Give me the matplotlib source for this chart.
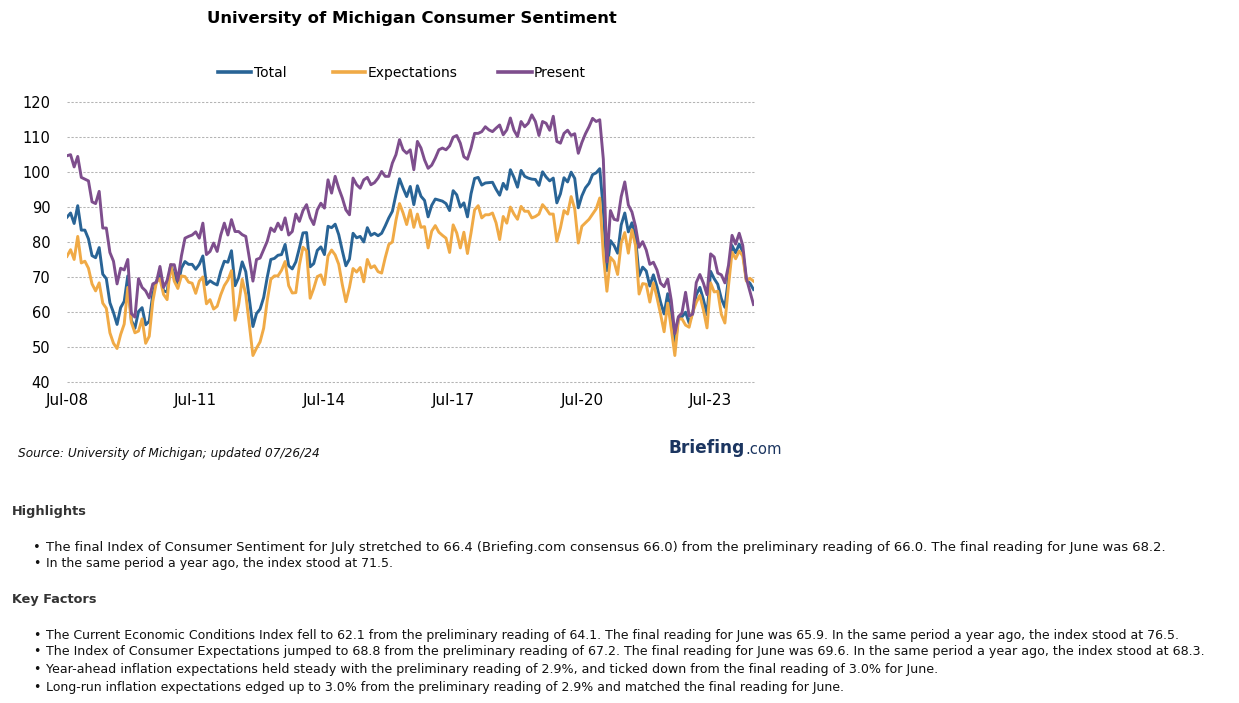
import matplotlib
matplotlib.use("Agg")
import matplotlib.pyplot as plt
from matplotlib.lines import Line2D

# ---------------- data (monthly readings as plotted) ----------------
total = [
    87.1, 88.3, 85.3, 90.4, 83.4, 83.4, 80.9, 76.1, 75.5, 78.4, 70.8, 69.5, 62.6, 59.8, 56.4, 61.2,
    63.0, 70.3, 57.6, 55.3, 60.1, 61.2, 56.3, 57.3, 65.1, 68.7, 70.8, 66.0, 65.7, 73.5, 70.6, 67.4,
    72.5, 74.4, 73.6, 73.6, 72.2, 73.6, 76.0, 67.8, 68.9, 68.2, 67.7, 71.6, 74.5,
    74.2, 77.5, 67.5, 69.8, 74.3, 71.5, 63.7, 55.8, 59.5, 60.8, 64.1, 69.9,
    75.0, 75.3, 76.2, 76.4, 79.3, 73.2, 72.3, 74.3, 78.3, 82.6, 82.7, 72.9,
    73.8, 77.6, 78.6, 76.4, 84.5, 84.1, 85.1, 82.1, 77.5, 73.2, 75.1, 82.5,
    81.2, 81.6, 80.0, 84.1, 81.9, 82.5, 81.8, 82.5, 84.6, 86.9, 88.8, 93.6,
    98.1, 95.4, 93.0, 95.9, 90.7, 96.1, 93.1, 91.9, 87.2,
    90.5, 92.3, 92.0, 91.7, 91.0, 89.0, 94.7, 93.5, 90.0, 91.2, 87.2,
    93.8, 98.2, 98.5, 96.3, 96.9, 97.0, 97.1, 95.1, 93.4, 96.8, 95.1, 100.7, 98.5, 95.7, 100.5, 98.8,
    98.3, 98.0,
    97.9, 96.2, 100.1, 98.6, 97.5, 98.3, 91.2, 93.8, 98.4, 97.2, 100.0, 98.2, 89.8, 93.2, 95.5, 96.8,
    99.3, 99.8, 101.0, 89.1,
    71.8, 80.4, 79.0, 76.8, 84.9,
    88.3, 82.9, 85.5, 81.2, 70.3, 72.8, 71.7, 67.4, 70.6, 67.2, 62.8, 59.4, 65.2, 58.4, 50.0,
    58.2, 58.6, 59.9, 56.8, 59.7, 64.9, 67.0, 63.5, 59.2, 71.6, 69.5, 67.9, 63.8, 61.3, 69.7, 79.0,
    76.9, 79.4, 77.2, 69.1, 68.2, 66.4,
]

expectations = [
    75.9, 77.8, 75.0, 81.6, 74.0, 74.5, 72.5, 68.0, 66.0, 68.3, 62.5, 61.0, 54.0, 51.0, 49.5, 53.5,
    56.5, 67.0, 57.0, 54.0, 54.5, 58.0, 51.0, 53.0, 63.0, 68.5, 69.5, 65.0, 63.5, 73.5, 68.8, 66.7,
    70.3, 70.1, 68.5, 68.2, 65.3, 68.8, 70.0, 62.3, 63.5, 60.8, 61.6, 64.9, 67.5, 69.1, 71.8, 57.6,
    62.0, 69.3, 65.0, 56.2, 47.5, 49.6, 51.4, 55.3, 63.2, 69.3, 70.3, 70.3, 71.9, 74.4, 67.5, 65.4,
    65.5, 73.4, 78.5, 77.5, 63.9, 66.7, 70.1, 70.6, 67.8, 76.0, 77.7, 76.3, 73.6, 67.8, 62.9, 67.0,
    72.4, 71.4, 72.7, 68.6, 75.0, 72.6, 73.2, 71.5, 71.1, 75.5, 79.3, 80.0, 86.2, 91.0, 88.3, 85.0,
    89.2, 84.2, 88.0, 84.2, 84.4, 78.3, 83.1, 84.7, 82.8, 81.9, 81.1, 77.0, 84.9, 82.6, 78.3, 82.8,
    76.7,
    82.6, 89.2, 90.4, 86.9, 87.8, 87.8, 88.3, 85.5, 80.7, 87.3, 85.4, 90.0, 88.0, 86.5, 90.2, 88.8,
    88.8, 86.9,
    87.3, 88.0, 90.7, 89.5, 88.0, 88.0, 80.2, 84.0, 89.0, 88.0, 93.0, 89.5, 79.7, 84.5, 85.5, 86.5,
    88.0, 89.5, 92.6, 76.4,
    65.9, 75.6, 74.4, 70.7, 79.7,
    82.7, 76.8, 83.5, 79.0, 65.1, 68.1, 67.9, 62.8, 68.3, 64.1, 59.4, 54.3, 62.5, 55.2, 47.5,
    57.9, 58.0, 56.2, 55.6, 59.9, 62.7, 64.7, 60.5, 55.4, 68.3, 65.7, 65.9, 59.3, 56.8, 67.4, 77.1,
    75.2, 77.4, 76.0, 68.8, 69.6, 68.8,
]

present = [
    104.7, 105.0, 101.5, 104.5, 98.5, 98.0, 97.5, 91.5, 91.0, 94.5, 84.0, 84.0, 77.0, 74.5, 68.0, 72.5,
    72.0, 75.0, 59.5, 58.5, 69.5, 67.0, 66.0, 64.0, 68.0, 68.5, 73.0, 67.0, 69.0, 73.5, 73.5, 69.0,
    76.0, 81.1, 81.6, 82.0, 82.9, 81.1, 85.4, 76.4, 77.3, 79.7, 77.3, 82.0, 85.4, 82.0, 86.4, 83.0,
    83.0, 82.1, 81.6, 75.4, 68.8, 75.0, 75.4, 77.8, 80.2, 84.0, 83.0, 85.4, 83.5, 86.9, 82.0, 83.0,
    88.0, 85.9, 89.0, 90.7, 87.0, 85.0, 89.2, 91.1, 89.7, 97.8, 94.0, 98.8, 95.4, 92.6, 89.2, 87.8,
    98.3, 96.4, 95.4, 97.8, 98.5, 96.4, 97.0, 98.3, 100.2, 98.8, 98.8, 102.6, 105.0, 109.3, 106.4, 105.4,
    106.4, 100.7, 108.8, 106.9, 103.5, 101.1, 102.0, 104.0, 106.4, 106.9, 106.4, 107.5, 110.0, 110.5,
    108.3, 104.4, 103.7,
    106.9, 111.1, 111.1, 111.6, 113.0, 112.1, 111.6, 112.6, 113.5, 110.7, 112.1, 115.5, 112.0, 110.2,
    114.5, 113.0, 114.0, 116.4,
    114.5, 110.5, 114.5, 114.0, 112.0, 116.0, 108.8, 108.3, 111.1, 112.0, 110.5, 111.0, 105.4, 108.5,
    111.0, 113.0, 115.4, 114.5, 115.0, 103.7,
    74.3, 89.0, 86.5, 86.2, 93.0,
    97.2, 90.6, 88.6, 84.5, 78.5, 80.1, 77.7, 73.6, 74.2, 72.0, 68.2, 67.2, 69.4, 63.3, 53.8,
    58.6, 59.7, 65.6, 58.8, 59.4, 68.4, 70.7, 68.2, 64.9, 76.6, 75.7, 71.1, 70.6, 68.3, 73.3, 81.9,
    79.4, 82.5, 79.0, 69.6, 65.9, 62.1,
]

series_names = ["Total", "Expectations", "Present"]
tick_index = [0, 36, 72, 108, 144, 180]
tick_labels = ["Jul-08", "Jul-11", "Jul-14", "Jul-17", "Jul-20", "Jul-23"]
y_ticks = [40, 50, 60, 70, 80, 90, 100, 110, 120]

title = "University of Michigan Consumer Sentiment"
source = "Source: University of Michigan; updated 07/26/24"
highlights = [
    "The final Index of Consumer Sentiment for July stretched to 66.4 (Briefing.com consensus 66.0) from the preliminary reading of 66.0. The final reading for June was 68.2.",
    "In the same period a year ago, the index stood at 71.5.",
]
key_factors = [
    "The Current Economic Conditions Index fell to 62.1 from the preliminary reading of 64.1. The final reading for June was 65.9. In the same period a year ago, the index stood at 76.5.",
    "The Index of Consumer Expectations jumped to 68.8 from the preliminary reading of 67.2. The final reading for June was 69.6. In the same period a year ago, the index stood at 68.3.",
    "Year-ahead inflation expectations held steady with the preliminary reading of 2.9%, and ticked down from the final reading of 3.0% for June.",
    "Long-run inflation expectations edged up to 3.0% from the preliminary reading of 2.9% and matched the final reading for June.",
]

# ---------------- styling ----------------
C_TOTAL = "#296496"
C_EXP = "#F0AA46"
C_PRES = "#7E4E8D"
FONT = "DejaVu Sans"
TXT = "#111111"

W, H = 1239, 703
fig = plt.figure(figsize=(W / 100, H / 100), dpi=100)
fig.patch.set_facecolor("white")


def fx(x):
    return x / W


def fy(y):
    return 1 - y / H


renderer = fig.canvas.get_renderer()


def fit_text(x, y, s, target_w, size0=10, **kw):
    t = fig.text(fx(x), fy(y), s, fontsize=size0, **kw)
    w = t.get_window_extent(renderer=renderer).width
    t.set_fontsize(size0 * target_w / w)
    return t


L, R, T, B = 67, 753.5, 102.3, 381.7
ax = fig.add_axes([fx(L), fy(B), (R - L) / W, (B - T) / H])
x = list(range(len(total)))
ax.plot(x, total, color=C_TOTAL, lw=2.1, solid_joinstyle="round", zorder=3)
ax.plot(x, expectations, color=C_EXP, lw=2.1, solid_joinstyle="round", zorder=4)
ax.plot(x, present, color=C_PRES, lw=2.1, solid_joinstyle="round", zorder=5)
ax.set_xlim(0, len(total) - 1)
ax.set_ylim(40, 120)
ax.set_yticks(y_ticks)
ax.set_xticks(tick_index)
ax.set_xticklabels(tick_labels)
for s in ax.spines.values():
    s.set_visible(False)
ax.grid(axis="y", color="#b4b4b4", lw=0.75, ls=(0, (2.2, 1.6)), zorder=0)
ax.grid(axis="x", visible=False)
for gl in ax.get_ygridlines():
    gl.set_clip_on(False)
ax.tick_params(axis="both", length=0, colors="black")
ax.tick_params(axis="y", labelsize=10.5, pad=12)
ax.tick_params(axis="x", labelsize=11, pad=8)
for lab in ax.get_xticklabels() + ax.get_yticklabels():
    lab.set_fontfamily(FONT)

# title
fit_text(412, 19, title, 409, ha="center", va="center", fontweight="bold",
         family=FONT, color="black")

# legend drawn by hand
leg = [(218, 251, 254, C_TOTAL, series_names[0]),
       (333, 365, 368, C_EXP, series_names[1]),
       (498, 532, 534, C_PRES, series_names[2])]
for x0, x1, xt, c, name in leg:
    fig.add_artist(Line2D([fx(x0), fx(x1)], [fy(72), fy(72)], color=c, lw=2.6,
                          transform=fig.transFigure))
    fig.text(fx(xt), fy(73), name, ha="left", va="center", fontsize=10,
             family=FONT, color="black")

# source & logo
fit_text(18, 453, source, 300, ha="left", va="center", style="italic",
         family=FONT, color=TXT)
fit_text(668, 448, "Briefing", 76, ha="left", va="center", fontweight="bold",
         family=FONT, color="#1B3560")
fit_text(745, 449, ".com", 36, ha="left", va="center",
         family=FONT, color="#1B3560")

# highlights text
hdr_kw = dict(ha="left", va="center", fontweight="bold", family=FONT, color="#333333", fontsize=9.3)
fig.text(fx(12), fy(512), "Highlights", **hdr_kw)
fig.text(fx(12), fy(600), "Key Factors", **hdr_kw)

hl_y = [547, 564]
hl_end = [1163, 392]
kf_y = [635, 652, 669, 687]
kf_end = [1175, 1197, 933, 845]
for s, yv, xe in list(zip(highlights, hl_y, hl_end)) + list(zip(key_factors, kf_y, kf_end)):
    t = fit_text(46, yv, s, xe - 46, ha="left", va="center", family=FONT, color=TXT)
    fig.text(fx(33), fy(yv), "\u2022", ha="left", va="center", family=FONT, color=TXT,
             fontsize=t.get_fontsize())

fig.savefig("out.png", dpi=100, facecolor="white")
